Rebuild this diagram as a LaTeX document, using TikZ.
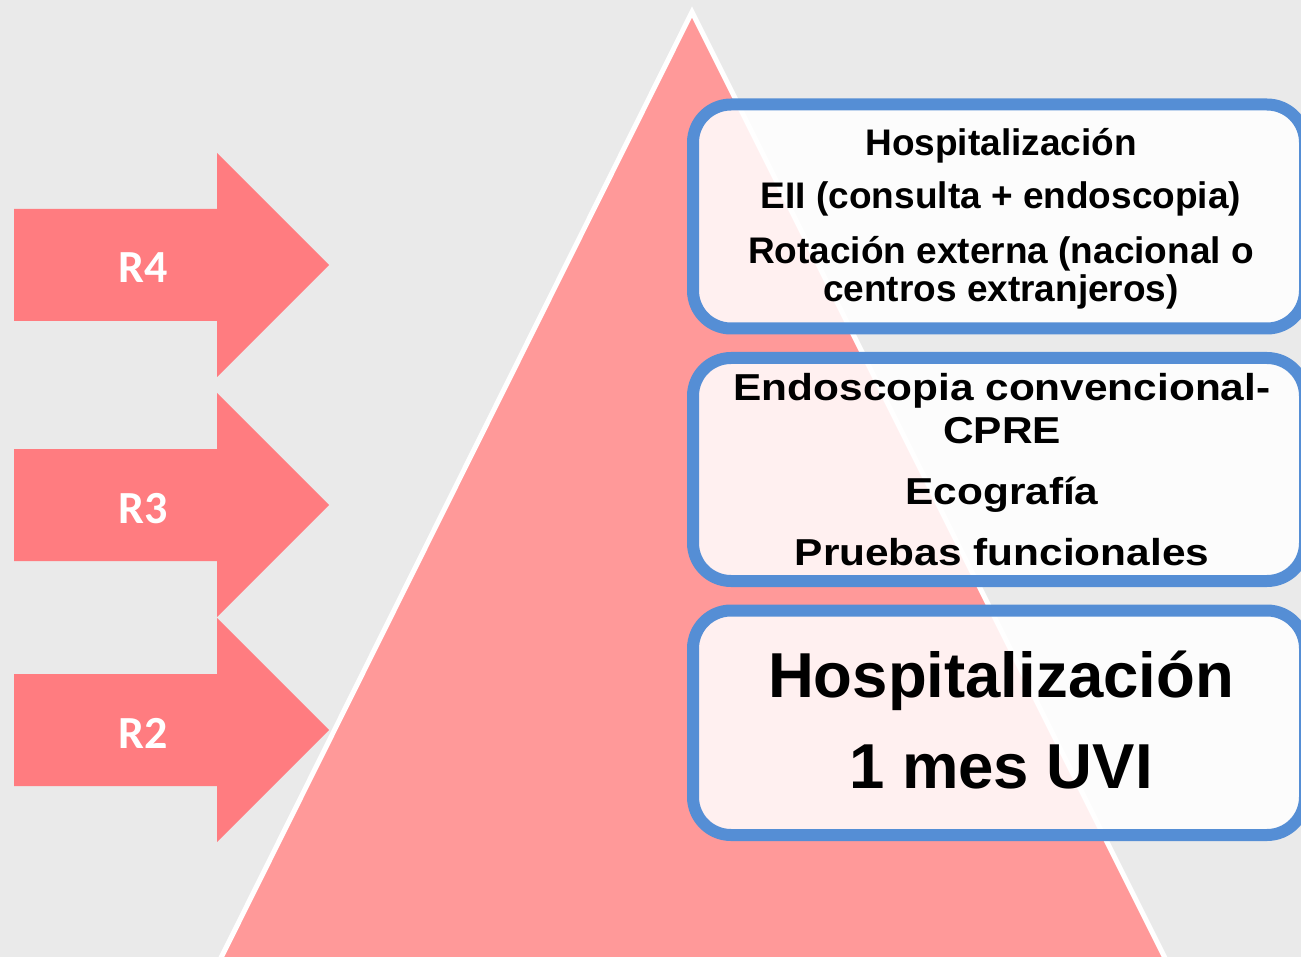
\documentclass[tikz,border=0pt]{standalone}
\usepackage{fontspec}
\usepackage{graphicx}
\setmainfont{Liberation Sans}
\newfontfamily\calibri{Carlito}
\definecolor{bg}{HTML}{EAEAEA}
\definecolor{tri}{HTML}{FF9999}
\definecolor{arr}{HTML}{FF7C80}
\definecolor{blu}{HTML}{558ED5}
\tikzset{
  arrowshape/.style={fill=arr, draw=none},
  rlabel/.style={text=white, font=\calibri\bfseries\fontsize{46}{46}\selectfont, anchor=base, inner sep=0pt},
  boxstyle/.style={draw=blu, line width=12pt, rounded corners=38pt, fill=white, fill opacity=0.86, inner sep=0pt, minimum width=612pt},
  txtA/.style={font=\bfseries\fontsize{37}{37}\selectfont, anchor=base, inner sep=0pt},
  txtB/.style={font=\bfseries\fontsize{37.5}{37.5}\selectfont, anchor=base, inner sep=0pt},
  txtC/.style={font=\bfseries\fontsize{63.5}{63.5}\selectfont, anchor=base, inner sep=0pt}
}
\newcommand{\wide}[1]{\scalebox{1.13}[1]{#1}}
\begin{document}
\begin{tikzpicture}[x=1pt,y=-1pt]
\useasboundingbox (0,0) rectangle (1301,957);
\clip (0,0) rectangle (1301,957);
\fill[bg] (0,0) rectangle (1301,957);
% pyramid
\draw[white, line width=5pt, fill=tri, line join=miter] (692,12) -- (1191,1010) -- (195,1010) -- cycle;
% arrows
\fill[arrowshape] (14,209) -- (217,209) -- (217,153) -- (329,265) -- (217,377) -- (217,321) -- (14,321) -- cycle;
\fill[arrowshape] (14,449) -- (217,449) -- (217,393) -- (329,505) -- (217,617) -- (217,561) -- (14,561) -- cycle;
\fill[arrowshape] (14,674) -- (217,674) -- (217,618) -- (329,730) -- (217,842) -- (217,786) -- (14,786) -- cycle;
\node[rlabel] (r4) at (143,283) {R4};
\node[rlabel] (r3) at (143,523) {R3};
\node[rlabel] (r2) at (143,748) {R2};
% boxes
\node[boxstyle, minimum height=224pt] (b1) at (999,216.5) {};
\node[boxstyle, minimum height=223pt] (b2) at (999,469.5) {};
\node[boxstyle, minimum height=224.5pt] (b3) at (999,722.75) {};
% box 1 text
\node[txtA] (t11) at (1001,156) {Hospitalización};
\node[txtA] (t12) at (1001,209) {EII (consulta + endoscopia)};
\node[txtA] (t13) at (1001,264) {Rotación externa (nacional o};
\node[txtA] (t14) at (1001,302) {centros extranjeros)};
% box 2 text
\node[txtB] (t21) at (1002,400) {\wide{Endoscopia convencional-}};
\node[txtB] (t22) at (1002,443) {\wide{CPRE}};
\node[txtB] (t23) at (1002,504) {\wide{Ecografía}};
\node[txtB] (t24) at (1002,565) {\wide{Pruebas funcionales}};
% box 3 text
\node[txtC] (t31) at (1001,697) {Hospitalización};
\node[txtC] (t32) at (1001,788) {1 mes UVI};
\end{tikzpicture}
\end{document}
